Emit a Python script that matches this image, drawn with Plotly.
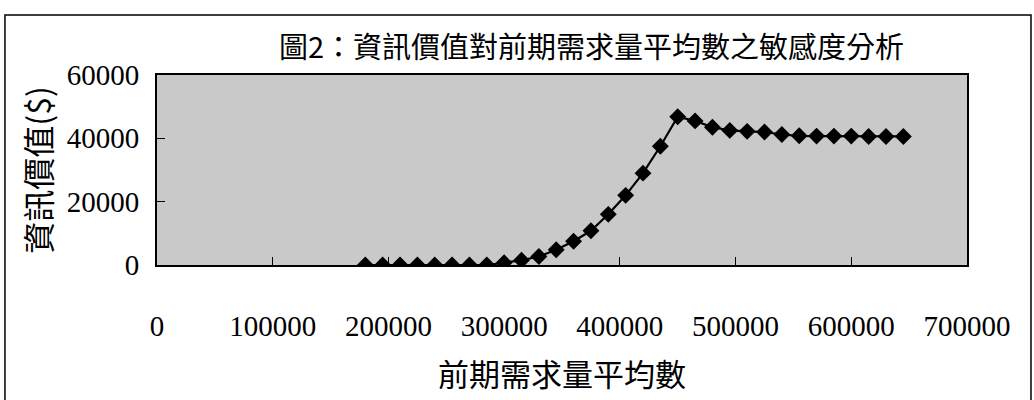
import plotly.graph_objects as go

# Mean prior-period demand (x) and value of information in $ (y)
demand_mean = [180000, 195000, 210000, 225000, 240000, 255000, 270000, 285000,
               300000, 315000, 330000, 345000, 360000, 375000, 390000, 405000,
               420000, 435000, 450000, 465000, 480000, 495000, 510000, 525000,
               540000, 555000, 570000, 585000, 600000, 615000, 630000, 645000]
info_value = [0, 0, 0, 0, 0, 0, 0, 0,
              700, 1500, 2700, 4800, 7500, 10800, 16000, 22000,
              29000, 37500, 46800, 45500, 43500, 42500, 42200, 42000,
              41200, 40800, 40700, 40700, 40700, 40600, 40600, 40600]

x_ticks = [0, 100000, 200000, 300000, 400000, 500000, 600000, 700000]
y_ticks = [0, 20000, 40000, 60000]

title_text = "圖2：資訊價值對前期需求量平均數之敏感度分析"
x_title = "前期需求量平均數"
y_title = "資訊價值($)"

cjk = "Noto Sans CJK TC"
serif = "Liberation Serif"

fig = go.Figure()
fig.add_trace(go.Scatter(
    x=demand_mean, y=info_value, mode="lines+markers",
    line=dict(color="black", width=2.2),
    marker=dict(symbol="diamond", size=13, color="black"),
    showlegend=False,
))

fig.update_layout(
    width=1034, height=400,
    margin=dict(l=157, r=67, t=75, b=135),
    paper_bgcolor="white",
    plot_bgcolor="#c9c9c9",
    title=dict(text=title_text, x=0.572, xanchor="center", y=0.88, yanchor="middle",
               font=dict(family=cjk, size=29, color="black")),
    xaxis=dict(range=[0, 700000], tickvals=x_ticks, ticktext=[str(v) for v in x_ticks],
               showgrid=False, zeroline=False, showline=True, linecolor="black", linewidth=2,
               mirror=True, ticks="inside", ticklen=8, tickcolor="black",
               ticklabelstandoff=34,
               tickfont=dict(family=serif, size=29, color="black"),
               title=dict(text=x_title, font=dict(family=cjk, size=31, color="black"), standoff=24)),
    yaxis=dict(range=[0, 60000], tickvals=y_ticks, ticktext=[str(v) for v in y_ticks],
               showgrid=False, zeroline=False, showline=True, linecolor="black", linewidth=2,
               mirror=True, ticks="inside", ticklen=8, tickcolor="black",
               ticklabelstandoff=10,
               tickfont=dict(family=serif, size=29, color="black"),
               title=dict(text=y_title, font=dict(family=cjk, size=32, color="black"), standoff=6)),
)

# Outer frame around the whole chart
fig.add_shape(type="rect", xref="paper", yref="paper",
              x0=-0.1877, x1=1.079, y0=-0.75, y1=1.316,
              line=dict(color="black", width=1.5), fillcolor="rgba(0,0,0,0)", layer="above")

fig.write_html("out.html")
